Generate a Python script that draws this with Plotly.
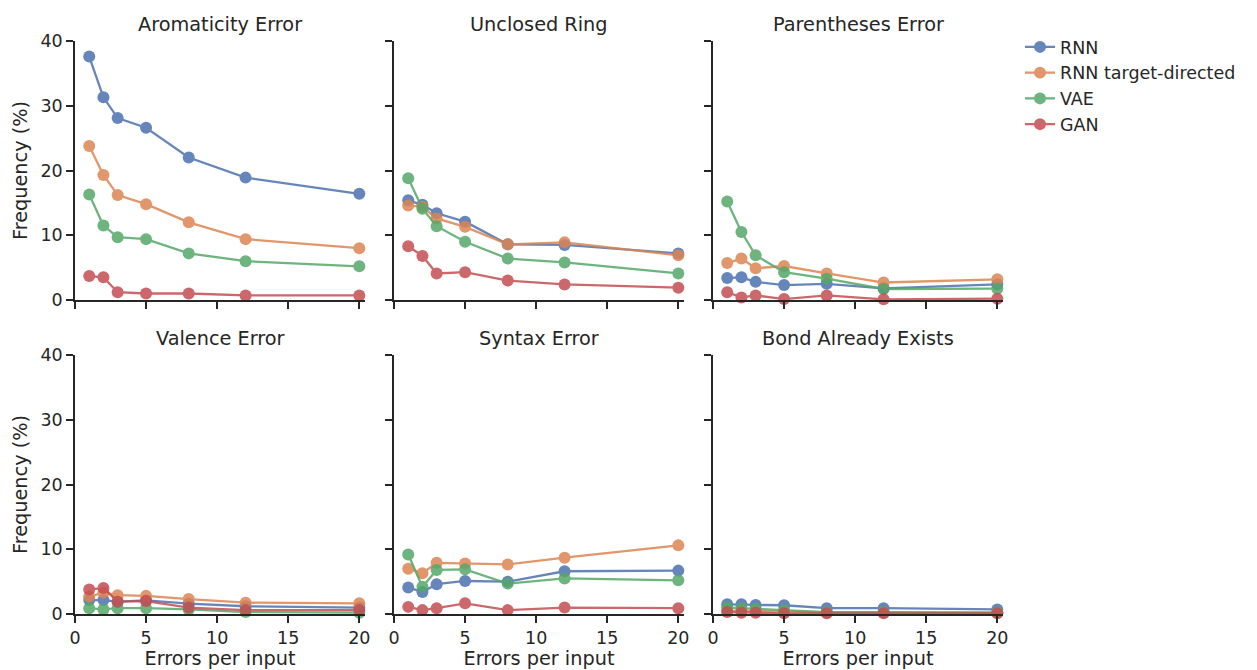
import plotly.graph_objects as go

x_errors = [1, 2, 3, 5, 8, 12, 20]
models = ["RNN", "RNN target-directed", "VAE", "GAN"]
colors = ["#4C72B0", "#DD8452", "#55A868", "#C44E52"]
panel_titles = ["Aromaticity Error", "Unclosed Ring", "Parentheses Error",
                "Valence Error", "Syntax Error", "Bond Already Exists"]

aromaticity_rnn = [37.6, 31.3, 28.1, 26.6, 22.0, 18.9, 16.4]
aromaticity_rnn_td = [23.8, 19.3, 16.2, 14.8, 12.0, 9.4, 8.0]
aromaticity_vae = [16.3, 11.5, 9.7, 9.4, 7.2, 6.0, 5.2]
aromaticity_gan = [3.7, 3.5, 1.2, 1.0, 1.0, 0.7, 0.7]

unclosed_rnn = [15.4, 14.7, 13.4, 12.1, 8.6, 8.5, 7.2]
unclosed_rnn_td = [14.6, 14.4, 12.6, 11.3, 8.6, 8.9, 6.9]
unclosed_vae = [18.8, 14.1, 11.4, 9.0, 6.4, 5.8, 4.1]
unclosed_gan = [8.3, 6.8, 4.1, 4.3, 3.0, 2.4, 1.9]

paren_rnn = [3.4, 3.5, 2.8, 2.3, 2.5, 1.8, 2.4]
paren_rnn_td = [5.7, 6.4, 4.9, 5.25, 4.1, 2.7, 3.2]
paren_vae = [15.2, 10.5, 6.9, 4.3, 3.3, 1.7, 1.75]
paren_gan = [1.2, 0.4, 0.7, 0.15, 0.7, 0.1, 0.2]

valence_rnn = [2.15, 2.15, 1.9, 2.1, 1.6, 1.2, 1.0]
valence_rnn_td = [2.7, 3.3, 2.9, 2.8, 2.3, 1.75, 1.65]
valence_vae = [0.9, 0.7, 0.9, 0.9, 0.7, 0.3, 0.2]
valence_gan = [3.8, 4.0, 1.9, 2.0, 1.0, 0.6, 0.6]

syntax_rnn = [4.1, 3.4, 4.6, 5.1, 5.0, 6.6, 6.7]
syntax_rnn_td = [7.0, 6.3, 7.9, 7.8, 7.65, 8.7, 10.6]
syntax_vae = [9.2, 4.2, 6.8, 6.9, 4.7, 5.5, 5.2]
syntax_gan = [1.1, 0.6, 0.9, 1.65, 0.6, 1.0, 0.9]

bond_rnn = [1.5, 1.5, 1.4, 1.35, 0.9, 0.9, 0.7]
bond_rnn_td = [0.5, 0.5, 0.5, 0.4, 0.2, 0.2, 0.2]
bond_vae = [1.0, 0.9, 0.8, 0.6, 0.3, 0.3, 0.2]
bond_gan = [0.3, 0.2, 0.2, 0.1, 0.1, 0.1, 0.1]

panels = [
    [aromaticity_rnn, aromaticity_rnn_td, aromaticity_vae, aromaticity_gan],
    [unclosed_rnn, unclosed_rnn_td, unclosed_vae, unclosed_gan],
    [paren_rnn, paren_rnn_td, paren_vae, paren_gan],
    [valence_rnn, valence_rnn_td, valence_vae, valence_gan],
    [syntax_rnn, syntax_rnn_td, syntax_vae, syntax_gan],
    [bond_rnn, bond_rnn_td, bond_vae, bond_gan],
]

W, H = 1257, 670
col_px = [(75, 365), (394, 684), (713, 1003)]
row_px = [(41, 300), (355, 614)]
TXT = "#262626"
FONT = "DejaVu Sans"
TICK_SIZE = 17.5
LABEL_SIZE = 19.3

fig = go.Figure()
layout = {}
for i, series in enumerate(panels):
    r, c = divmod(i, 3)
    n = i + 1
    xa = "x" if n == 1 else f"x{n}"
    ya = "y" if n == 1 else f"y{n}"
    for k, vals in enumerate(series):
        fig.add_trace(go.Scatter(
            x=x_errors, y=vals, xaxis=xa, yaxis=ya, mode="lines+markers",
            name=models[k], legendgroup=models[k], showlegend=(i == 0),
            line=dict(color=colors[k], width=2.3),
            marker=dict(color=colors[k], size=12, line=dict(width=0)),
            opacity=0.85, cliponaxis=False,
        ))
    x0, x1 = col_px[c]
    y0, y1 = row_px[r]
    axis_common = dict(
        showgrid=False, zeroline=False, showline=True, linecolor=TXT, linewidth=1.6,
        ticks="outside", ticklen=7, tickwidth=1.6, tickcolor=TXT, automargin=False,
        tickfont=dict(family=FONT, size=TICK_SIZE, color=TXT),
    )
    layout["xaxis" if n == 1 else f"xaxis{n}"] = dict(
        axis_common, domain=[x0 / W, x1 / W], anchor=ya, range=[0, 20.4],
        tickvals=[0, 5, 10, 15, 20], showticklabels=(r == 1),
        title=dict(text="Errors per input" if r == 1 else "",
                   font=dict(family=FONT, size=LABEL_SIZE, color=TXT), standoff=2),
    )
    layout["yaxis" if n == 1 else f"yaxis{n}"] = dict(
        axis_common, domain=[1 - y1 / H, 1 - y0 / H], anchor=xa, range=[0, 40],
        tickvals=[0, 10, 20, 30, 40], showticklabels=(c == 0),
        title=dict(text="Frequency (%)" if c == 0 else "",
                   font=dict(family=FONT, size=LABEL_SIZE, color=TXT), standoff=8),
    )

annotations = []
for i, t in enumerate(panel_titles):
    r, c = divmod(i, 3)
    x0, x1 = col_px[c]
    y0, _ = row_px[r]
    annotations.append(dict(
        text=t, x=(x0 + x1) / 2 / W, y=1 - (y0 - 3) / H, xref="paper", yref="paper",
        xanchor="center", yanchor="bottom", showarrow=False,
        font=dict(family=FONT, size=LABEL_SIZE, color=TXT),
    ))

fig.update_layout(
    **layout,
    annotations=annotations,
    width=W, height=H,
    margin=dict(l=0, r=0, t=0, b=0),
    paper_bgcolor="white", plot_bgcolor="white",
    font=dict(family=FONT, size=TICK_SIZE, color=TXT),
    legend=dict(x=1020 / W, y=1 - 29 / H, xanchor="left", yanchor="top",
                font=dict(family=FONT, size=TICK_SIZE, color=TXT),
                bgcolor="rgba(0,0,0,0)", itemwidth=30, tracegroupgap=0),
)

fig.write_html("out.html")
